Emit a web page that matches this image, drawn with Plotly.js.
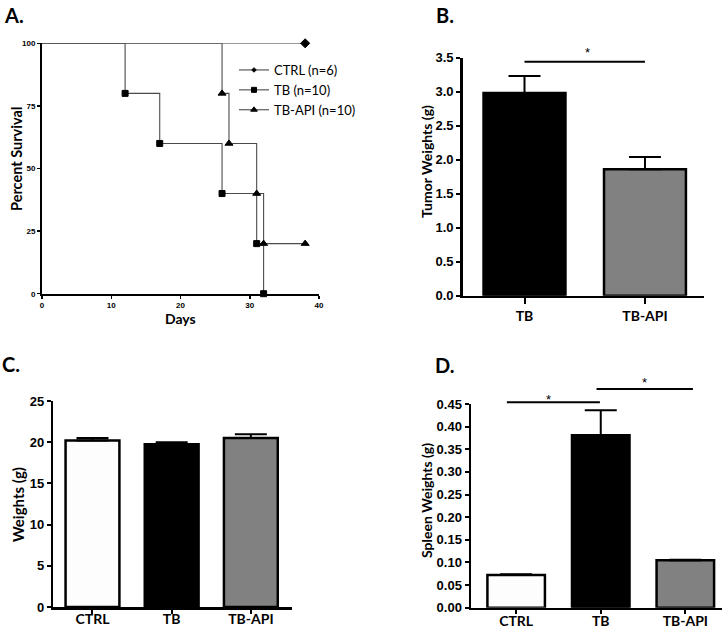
<!DOCTYPE html>
<html>
<head>
<meta charset="utf-8">
<script src="https://cdn.plot.ly/plotly-3.0.1.min.js"></script>
<style>
  body { margin: 0; background: #fff; }
  #chart { width: 725px; height: 631px; }
</style>
</head>
<body>
<div id="chart"></div>
<script>
// ---------------- data ----------------
// A. survival (days, percent)
var ctrlDays = [0, 38];
var ctrlSurvival = [100, 100];
var tbDays = [0, 12, 17, 26, 31, 32];
var tbSurvival = [100, 80, 60, 40, 20, 0];
var apiDays = [0, 26, 27, 31, 32, 38];
var apiSurvival = [100, 80, 60, 40, 20, 20];

// B. tumor weights
var tumorGroups = ['TB', 'TB-API'];
var tumorMean = [2.98, 1.86];
var tumorSem = [0.25, 0.18];

// C. body weights
var bodyGroups = ['CTRL', 'TB', 'TB-API'];
var bodyMean = [20.2, 19.75, 20.5];
var bodySem = [0.3, 0.25, 0.45];

// D. spleen weights
var spleenGroups = ['CTRL', 'TB', 'TB-API'];
var spleenMean = [0.072, 0.381, 0.105];
var spleenSem = [0.002, 0.055, 0.001];

// significance bars: [from, to, height, starX, starHeight]
var tumorSig = [[0, 1, 3.44, 0.52, 3.58]];
var spleenSig = [[-0.11, 0.99, 0.4537, 0.38, 0.459], [0.95, 2.09, 0.4831, 1.52, 0.4986]];

var groupColor = { 'CTRL': '#fdfdfd', 'TB': '#000000', 'TB-API': '#818181' };

// ---------------- helpers ----------------
var W = 725, H = 631;
function fx(px) { return px / W; }
function fy(px) { return 1 - px / H; }

var tickFamily = 'Liberation Sans, Arial, sans-serif';
var titleFont = 'Lato, Open Sans, sans-serif';

function survTrace(days, pct, name, symbol, size) {
    // no marker on the starting point
    var sizes = days.map(function (d, i) { return i === 0 ? 0 : size; });
    return {
        x: days, y: pct, name: name, type: 'scatter', mode: 'lines+markers',
        line: { shape: 'hv', color: '#4a4a4a', width: 1.1 },
        marker: { symbol: symbol, size: sizes, opacity: 1, color: '#000', line: { color: '#000', width: 1 } },
        cliponaxis: false, xaxis: 'x', yaxis: 'y'
    };
}

function barTrace(groups, means, sem, ax) {
    return {
        x: groups, y: means, type: 'bar', showlegend: false, width: 0.68,
        marker: { color: groups.map(function (g) { return groupColor[g]; }), line: { color: '#000', width: 2.5 } },
        error_y: { type: 'data', array: sem, arrayminus: sem.map(function () { return 0; }), symmetric: false,
                   color: '#000', thickness: 2, width: 16 },
        xaxis: 'x' + ax, yaxis: 'y' + ax
    };
}

function barX(domain, range, anchor, ticklen, standoff) {
    return {
        domain: domain, range: range, type: 'category', anchor: anchor,
        showline: true, linecolor: '#000', linewidth: 2.5, showgrid: false, zeroline: false,
        ticks: 'outside', ticklen: ticklen, tickwidth: 2, tickcolor: '#000', ticklabelstandoff: standoff,
        tickfont: { family: titleFont, size: 14, weight: 'bold', color: '#000' }
    };
}

function barY(domain, range, dtick, fmt, anchor) {
    return {
        domain: domain, range: range, dtick: dtick, tickformat: fmt, anchor: anchor,
        showline: true, linecolor: '#000', linewidth: 2.5, showgrid: false, zeroline: false,
        ticks: 'outside', ticklen: 4, tickwidth: 2, tickcolor: '#000',
        tickfont: { family: tickFamily, size: 13, weight: 'bold', color: '#000' }
    };
}

var traces = [
    survTrace(ctrlDays, ctrlSurvival, 'CTRL (n=6)', 'diamond', 7),
    survTrace(tbDays, tbSurvival, 'TB (n=10)', 'square', 6),
    survTrace(apiDays, apiSurvival, 'TB-API (n=10)', 'triangle-up', 7),
    barTrace(tumorGroups, tumorMean, tumorSem, 2),
    barTrace(bodyGroups, bodyMean, bodySem, 3),
    barTrace(spleenGroups, spleenMean, spleenSem, 4)
];

var shapes = [];
var annotations = [];

function addSig(list, ax, ymax) {
    list.forEach(function (s) {
        shapes.push({ type: 'line', xref: 'x' + ax, yref: 'y' + ax + ' domain',
            x0: s[0], x1: s[1], y0: s[2] / ymax, y1: s[2] / ymax,
            line: { color: '#000', width: 2 } });
        annotations.push({ xref: 'x' + ax, yref: 'y' + ax + ' domain', x: s[3], y: s[4] / ymax,
            text: '*', showarrow: false, yanchor: 'middle',
            font: { family: 'Liberation Sans, sans-serif', size: 13, color: '#000' } });
    });
}
addSig(tumorSig, 2, 3.5);
addSig(spleenSig, 4, 0.45);

function label(text, x, y, size, angle) {
    annotations.push({ xref: 'paper', yref: 'paper', x: fx(x), y: fy(y), text: text, showarrow: false,
        textangle: angle || 0, xanchor: 'center', yanchor: 'middle',
        font: { family: titleFont, size: size, weight: 'bold', color: '#000' } });
}
label('A.', 14, 14.5, 20);
label('B.', 445, 14.5, 20);
label('C.', 11, 364, 20);
label('D.', 445, 365, 20);
label('Percent Survival', 17, 159, 14.5, -90);
label('Days', 180, 318, 14);
label('Tumor Weights (g)', 426, 162, 14, -90);
label('Weights (g)', 18, 505, 15, -90);
label('Spleen Weights (g)', 426, 501, 14, -90);

var layout = {
    width: W, height: H,
    margin: { l: 0, r: 0, t: 0, b: 0 },
    paper_bgcolor: '#fff', plot_bgcolor: '#fff',
    showlegend: true,
    legend: { x: fx(234), y: fy(55), xanchor: 'left', yanchor: 'top', bgcolor: 'rgba(0,0,0,0)',
              itemwidth: 30, font: { family: titleFont, size: 13, color: '#000' } },
    xaxis: {
        domain: [fx(42), fx(319)], range: [0, 40], dtick: 10, anchor: 'y',
        showline: true, linecolor: '#000', linewidth: 2, showgrid: false, zeroline: false,
        ticks: 'outside', ticklen: 3, tickwidth: 1.5, tickcolor: '#000',
        tickfont: { family: tickFamily, size: 8, weight: 'bold', color: '#000' }
    },
    yaxis: {
        domain: [fy(293.7), fy(43.3)], range: [0, 100], tickvals: [0, 25, 50, 75, 100], anchor: 'x',
        showline: true, linecolor: '#000', linewidth: 2, showgrid: false, zeroline: false,
        ticks: 'outside', ticklen: 3, tickwidth: 1.5, tickcolor: '#000',
        tickfont: { family: tickFamily, size: 8, weight: 'bold', color: '#000' }
    },
    xaxis2: barX([fx(462.7), fx(704)], [-0.513, 1.49], 'y2', 6, 0),
    yaxis2: barY([fy(295.7), fy(57.7)], [0, 3.5], 0.5, '.1f', 'x2'),
    xaxis3: barX([fx(53.3), fx(291.7)], [-0.495, 2.516], 'y3', 4, -6),
    yaxis3: barY([fy(607), fy(401)], [0, 25], 5, 'd', 'x3'),
    xaxis4: barX([fx(471), fx(721.7)], [-0.534, 2.43], 'y4', 4, -5),
    yaxis4: barY([fy(607.7), fy(404)], [0, 0.45], 0.05, '.2f', 'x4'),
    shapes: shapes,
    annotations: annotations
};

Plotly.newPlot('chart', traces, layout, { displayModeBar: false, staticPlot: true });
</script>
</body>
</html>
